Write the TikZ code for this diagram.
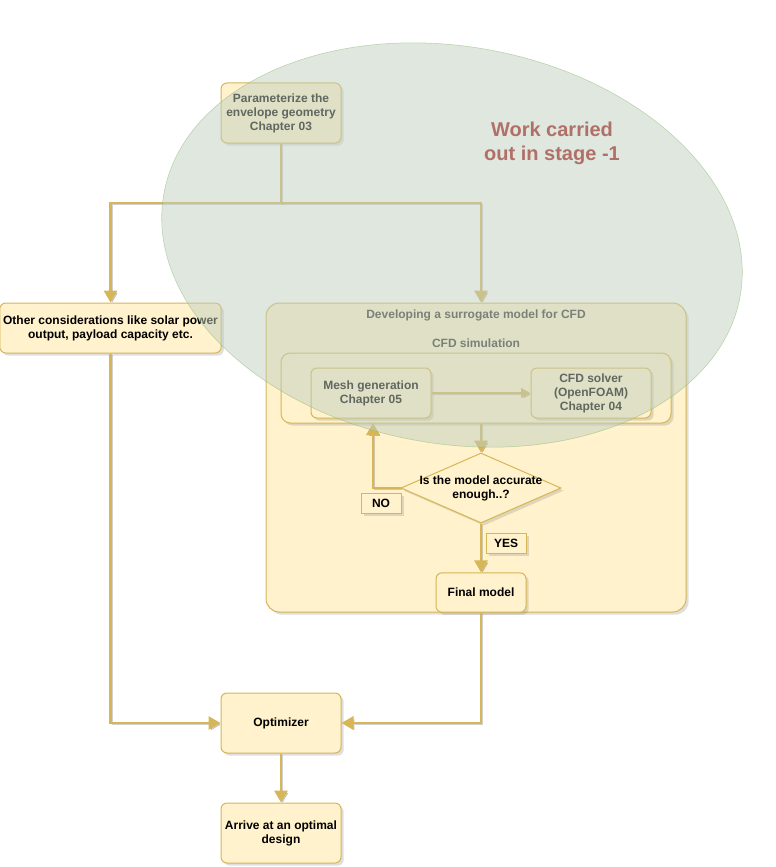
\documentclass[tikz,border=0pt]{standalone}
\usepackage{fontspec}
\setmainfont{Liberation Sans}
\usetikzlibrary{shapes,arrows.meta,positioning,shadows}
\definecolor{boxfill}{HTML}{FFF2CC}
\definecolor{boxline}{HTML}{D6B656}
\definecolor{stagefill}{RGB}{192,207,191}
\definecolor{stageline}{HTML}{82B366}
\definecolor{stagetext}{RGB}{176,112,104}
\tikzstyle{block} = [rectangle, draw=boxline, fill=boxfill, line width=0.75pt,
    rounded corners=4.5pt, align=center, inner sep=0pt,
    font=\bfseries\fontsize{9}{10.5}\selectfont,
    drop shadow={shadow xshift=2pt,shadow yshift=-2pt,opacity=0.25}]
\tikzstyle{decision} = [diamond, draw=boxline, fill=boxfill, line width=0.75pt,
    inner sep=0pt, drop shadow={shadow xshift=2pt,shadow yshift=-2pt,opacity=0.25}]
\tikzstyle{tag} = [rectangle, draw=boxline, fill=boxfill, line width=0.75pt,
    minimum width=30pt, minimum height=15pt, inner sep=0pt,
    font=\bfseries\fontsize{9}{10.5}\selectfont,
    drop shadow={shadow xshift=2pt,shadow yshift=-2pt,opacity=0.25}]
\tikzstyle{line} = [draw=boxline, line width=1.6pt, -{Triangle[length=9pt,width=10pt]},
    preaction={draw=black, draw opacity=0.18, fill opacity=0.18,
    transform canvas={shift={(1.2pt,-1.2pt)}}}]

\begin{document}
\begin{tikzpicture}[x=0.75pt,y=-0.75pt]
\useasboundingbox (0,0) rectangle (775,867);

% boxes
\node [block, minimum width=90pt, minimum height=45pt] (param) at (281,113) {Parameterize the\\envelope geometry\\Chapter 03};
\node [block, minimum width=166pt, minimum height=37.5pt] (other) at (110.5,328) {Other considerations like solar power\\output, payload capacity etc.};

\node [block, rounded corners=10pt, minimum width=315pt, minimum height=231.75pt] (surrogate) at (476,457.5) {};
\node [font=\bfseries\fontsize{9}{10.5}\selectfont, text=black!80] (surrogatetitle) at (476,315) {Developing a surrogate model for CFD};

\node [block, rounded corners=7pt, minimum width=292.5pt, minimum height=52.5pt] (cfdsim) at (476,388) {};
\node [font=\bfseries\fontsize{9}{10.5}\selectfont, text=black!80] (cfdsimtitle) at (476,343) {CFD simulation};
\node [block, minimum width=90pt, minimum height=37.5pt] (mesh) at (371,393) {Mesh generation\\Chapter 05};
\node [block, minimum width=90pt, minimum height=37.5pt] (solver) at (591,393) {CFD solver\\(OpenFOAM)\\Chapter 04};

\node [decision, minimum width=120pt, minimum height=52.5pt] (accurate) at (481,488) {};
\node [align=center, font=\bfseries\fontsize{9}{10.5}\selectfont] (accuratetext) at (accurate) {Is the model accurate\\enough..?};
\node [tag] (no) at (381,503) {NO};
\node [tag] (yes) at (506,543) {YES};
\node [block, minimum width=67.5pt, minimum height=29.5pt] (final) at (481,592.5) {Final model};

\node [block, minimum width=90pt, minimum height=45pt] (optimizer) at (281,723) {Optimizer};
\node [block, minimum width=90pt, minimum height=45pt] (design) at (281,833) {Arrive at an optimal\\design};

% connectors
\coordinate (split) at (281,203);
\coordinate (back) at (373,423);
\draw [line, -] (param.south) -- (split);
\draw [line] (split) -| (other.north);
\draw [line] (split) -| (final |- surrogate.north);
\draw [line, -{Triangle[length=7pt,width=7pt]}] (mesh) -- (solver);
\draw [line] (accurate |- cfdsim.south) -- (accurate.north);
\draw [line] (accurate.west) -| (back);
\draw [line] (accurate.south) -- (final.north);
\draw [line] (final.south) |- (optimizer.east);
\draw [line] (other.south) |- (optimizer.west);
\draw [line] (optimizer) -- (design);

% stage 1 overlay
\node [ellipse, rotate=-10, fill=stagefill, fill opacity=0.5, draw=stageline, draw opacity=0.5,
    inner sep=0pt, minimum width=439pt, minimum height=298pt] (stage) at (452,245) {};
\node [align=center, text=stagetext, font=\bfseries\fontsize{15}{18}\selectfont] (stagelabel) at (552,143) {Work carried\\out in stage -1};

\end{tikzpicture}
\end{document}
